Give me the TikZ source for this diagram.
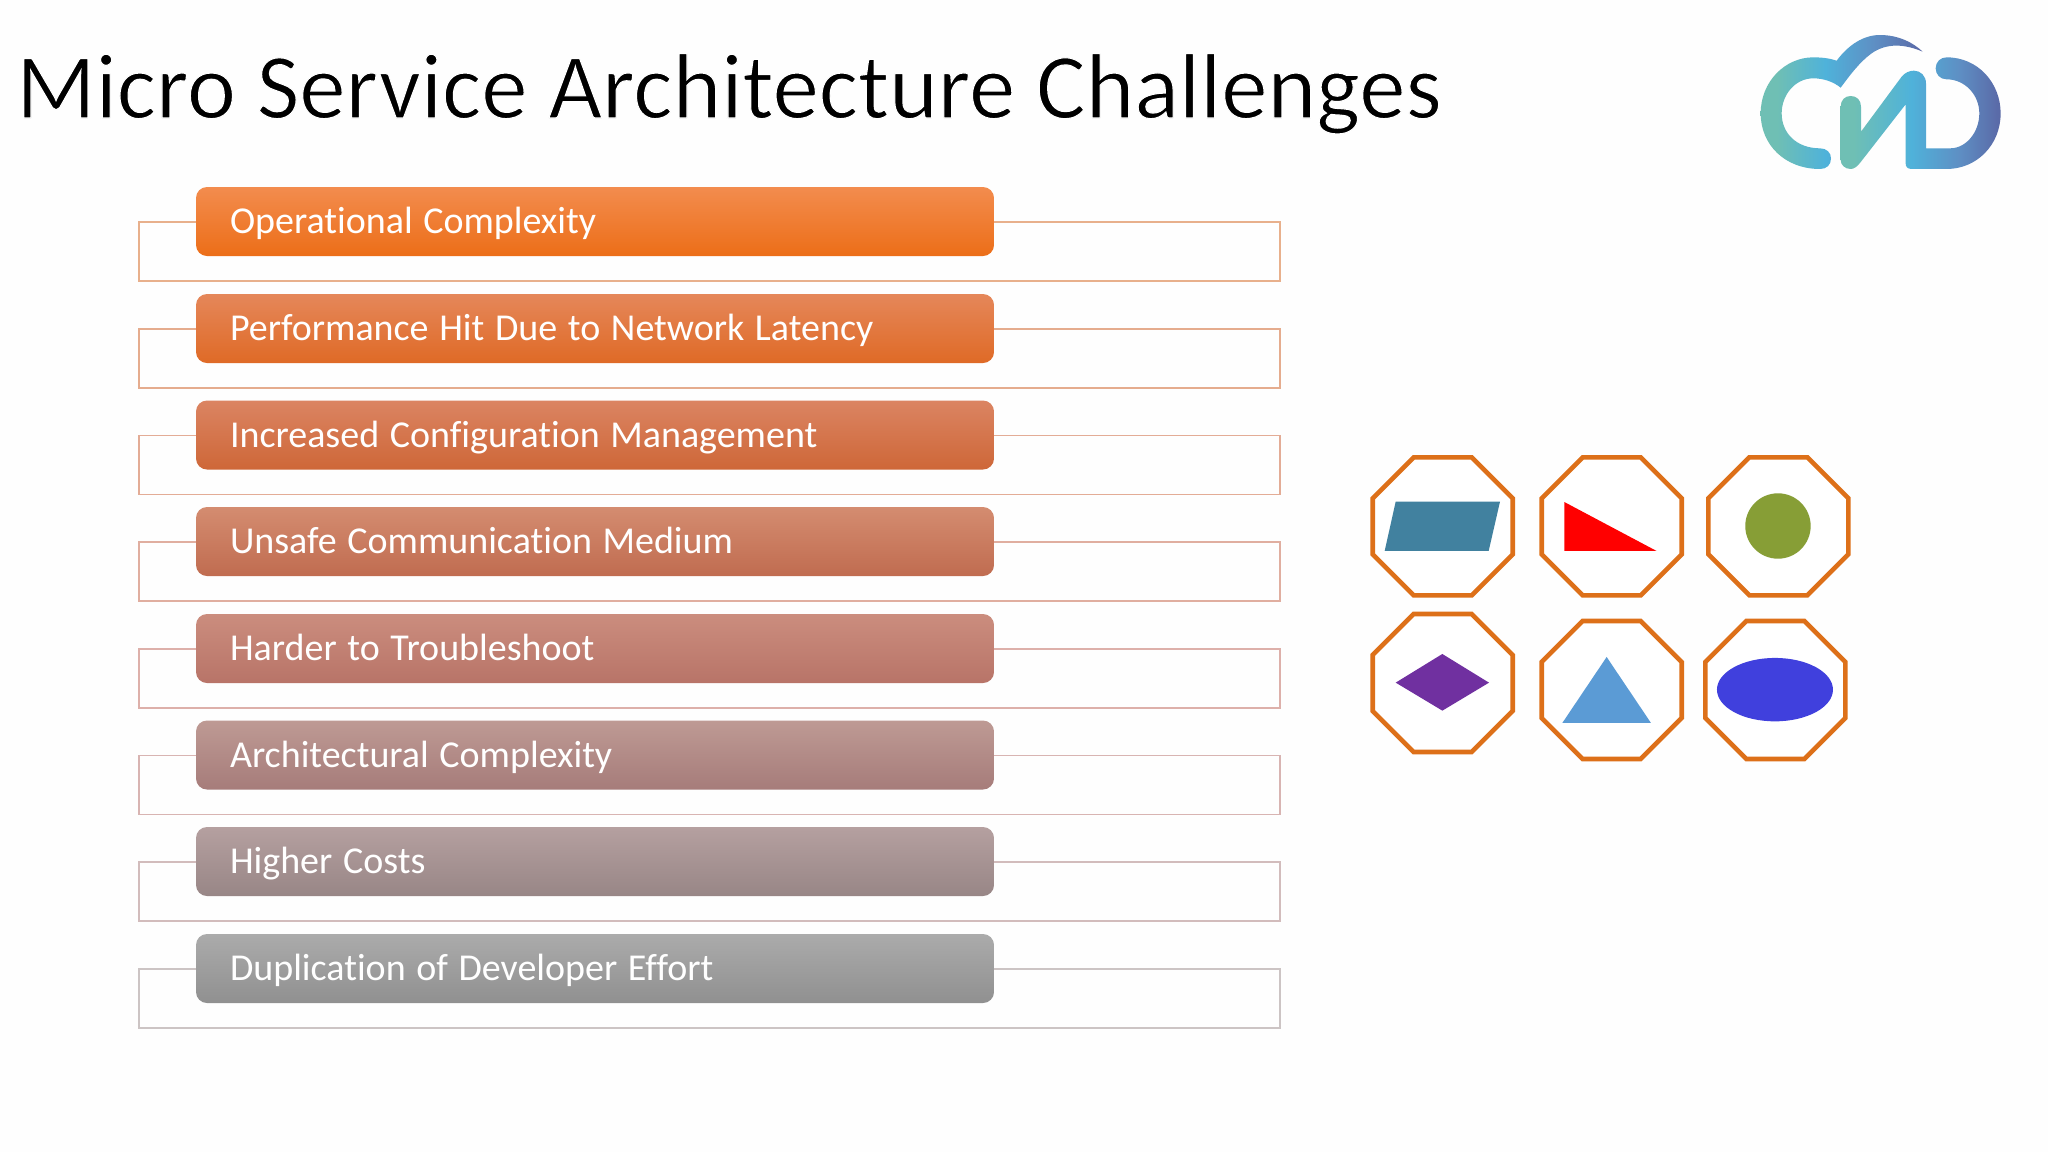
\documentclass[tikz,border=0pt]{standalone}
\usepackage{fontspec}
\setmainfont{Carlito}[Ligatures=NoCommon]
\usetikzlibrary{calc}
\definecolor{octline}{HTML}{DD7019}
\definecolor{logoa}{HTML}{6FBFB4}
\definecolor{logob}{HTML}{4FB2DA}
\definecolor{logoc}{HTML}{5E8FC4}
\definecolor{logod}{HTML}{5A68A6}
\definecolor{parac}{RGB}{65,129,159}
\definecolor{circc}{RGB}{135,158,54}
\definecolor{diamc}{RGB}{112,48,160}
\definecolor{tric}{RGB}{91,155,213}
\definecolor{ellc}{RGB}{64,64,221}
\pgfdeclarehorizontalshading{logocloud}{100bp}{color(0bp)=(logoa);color(30bp)=(logoa);color(45bp)=(logob);color(60bp)=(logoc);color(75bp)=(logod);color(100bp)=(logod)}
\pgfdeclarehorizontalshading{logomark}{100bp}{color(0bp)=(logoa);color(29bp)=(logoa);color(47bp)=(logob);color(62bp)=(logoc);color(75bp)=(logod);color(100bp)=(logod)}
\newcommand{\challenge}[6]{%
  % #1 name, #2 top y, #3 text, #4 frame colour, #5 top colour, #6 bottom colour
  \definecolor{#1frame}{HTML}{#4}%
  \definecolor{#1top}{HTML}{#5}%
  \definecolor{#1bot}{HTML}{#6}%
  \coordinate (#1tl) at (196,#2+35);
  \coordinate (#1tr) at (994,#2+35);
  \coordinate (#1fl) at (139,#2+35);
  \coordinate (#1fr) at (1280,#2+35);
  \coordinate (#1bl) at (139,#2+94);
  \coordinate (#1br) at (1280,#2+94);
  \draw[frameline,draw=#1frame] (#1tl) -- (#1fl) -- (#1bl) -- (#1br) -- (#1fr) -- (#1tr);
  \node[pill,top color=#1top,bottom color=#1bot] (#1) at (595,#2+34.5) {\spaceskip=0.28em\relax #3};
}
\newcommand{\octa}[3]{%
  \draw[octa] (#2,#3)++(41,0) coordinate (#1) -- ++(58,0) -- ++(41,41) -- ++(0,56) -- ++(-41,41) -- ++(-58,0) -- ++(-41,-41) -- ++(0,-56) -- cycle;
}
\newcommand{\lighttext}[1]{\special{pdf:code 2 Tr 1.1 w 1 1 1 RG}#1\special{pdf:code 0 Tr 1 w 0 0 0 RG}}
\tikzset{
  frameline/.style={line width=1.2pt},
  pill/.style={rounded corners=11pt,minimum width=798pt,minimum height=69pt,inner xsep=34pt,inner ysep=0pt,
    text=white,font=\fontsize{38}{40}\selectfont,align=left,text width=730pt,text height=30.5pt,text depth=6.5pt},
  octa/.style={draw=octline,line width=4.6pt,fill=white},
}
\begin{document}
\begin{tikzpicture}[x=1pt,y=-1pt]
\useasboundingbox (0,0) rectangle (2048,1152);
\fill[white!99.5!black] (0,0) rectangle (2048,1152);
\node[anchor=base west,inner sep=0pt,font=\fontsize{92.8}{100}\selectfont] (title) at (16,118) {\lighttext{Micro Service Architecture Challenges}};

\challenge{r1}{187}{Operational Complexity}{E8B08C}{F38C4E}{EC6E18}
\challenge{r2}{294}{Performance Hit Due to Network Latency}{E5AC8E}{E5875A}{DF6A26}
\challenge{r3}{400.5}{Increased Configuration Management}{E3AC96}{DB8462}{CE6738}
\challenge{r4}{507}{Unsafe Communication Medium}{E0AEA0}{D48C70}{C06C50}
\challenge{r5}{614}{Harder to Troubleshoot}{DDB0AA}{CB8D7E}{B87468}
\challenge{r6}{720.5}{Architectural Complexity}{D8B4B2}{BE9A94}{A67C7A}
\challenge{r7}{827}{Higher Costs}{D2BCBC}{B5A0A0}{988686}
\challenge{r8}{934}{Duplication of Developer Effort}{CCC4C4}{ABABAB}{909090}

\octa{oa}{1372.7}{457.3}
\octa{ob}{1541.7}{457.3}
\octa{oc}{1708.3}{457.3}
\octa{od}{1372.7}{614}
\octa{oe}{1541.7}{621}
\octa{of}{1705.3}{621}

\begin{scope}[shift={(1350,440)},x=0.3333pt,y=-0.3333pt]
\fill[parac] (137,185) -- (450,185) -- (416,333) -- (104,333) -- cycle;
\fill[red] (643,186) -- (920,333) -- (643,333) -- cycle;
\fill[circc] (1284,258) circle[radius=32.7pt];
\fill[diamc] (277,642) -- (417,728) -- (277,812) -- (137,728) -- cycle;
\fill[tric] (770,651) -- (903,849) -- (637,849) -- cycle;
\fill[ellc] (1275,749) ellipse[x radius=58pt,y radius=31.7pt];
\end{scope}

\begin{scope}[shift={(1730,20)},x=0.3333pt,y=-0.3333pt]
\shade[shading=logocloud]
  (270,447) .. controls (165,447) and (92,375) .. (92,280)
  .. controls (92,185) and (165,112) .. (250,112)
  .. controls (275,112) and (300,115) .. (320,122)
  .. controls (355,75) and (400,45) .. (450,45)
  .. controls (505,45) and (550,68) .. (578,95)
  .. controls (525,72) and (470,68) .. (425,100)
  .. controls (390,125) and (360,165) .. (332,203)
  .. controls (310,185) and (280,175) .. (250,175)
  .. controls (195,175) and (155,225) .. (155,280)
  .. controls (155,340) and (200,385) .. (270,385)
  .. controls (290,385) and (303,398) .. (303,415)
  .. controls (303,435) and (290,447) .. (270,447) -- cycle;
\shade[shading=logomark]
  (332,260) .. controls (332,240) and (345,228) .. (362,228)
  .. controls (380,228) and (393,240) .. (393,260)
  -- (393,335) -- (515,170)
  .. controls (525,158) and (538,152) .. (552,152)
  .. controls (572,152) and (588,168) .. (588,190)
  -- (588,385) -- (660,385)
  .. controls (710,385) and (748,335) .. (748,280)
  .. controls (748,225) and (705,178) .. (650,178)
  .. controls (630,178) and (617,163) .. (617,145)
  .. controls (617,125) and (632,112) .. (650,112)
  .. controls (745,112) and (812,190) .. (812,280)
  .. controls (812,375) and (740,447) .. (650,447)
  -- (545,447) .. controls (532,447) and (527,440) .. (527,430)
  -- (527,253) -- (393,425)
  .. controls (382,440) and (372,447) .. (362,447)
  .. controls (345,447) and (332,435) .. (332,420) -- cycle;
\end{scope}
\end{tikzpicture}
\end{document}
